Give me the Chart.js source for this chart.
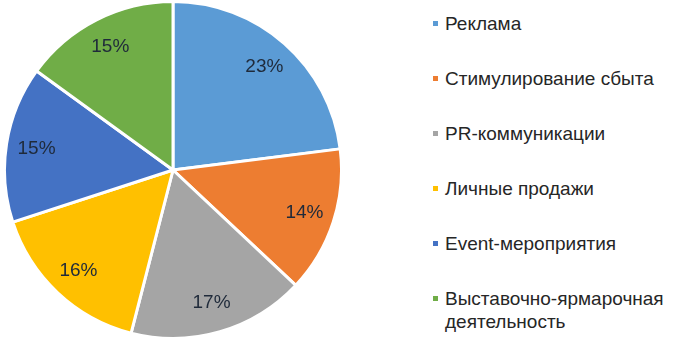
<!DOCTYPE html>
<html>
<head>
<meta charset="utf-8">
<script src="https://cdn.jsdelivr.net/npm/chart.js@4"></script>
<style>
  html, body { margin: 0; padding: 0; background: #fff; }
  body { width: 678px; height: 349px; position: relative; overflow: hidden; font-family: "Liberation Sans", Arial, sans-serif; }
  #pie-wrap { position: absolute; left: 3px; top: 0px; width: 340px; height: 340px; }
  #legend { position: absolute; left: 433px; top: 12px; margin: 0; padding: 0; list-style: none; }
  #legend li { position: relative; padding-left: 12px; font-size: 19px; line-height: 23px; color: #262626; height: 55px; width: 240px; }
  #legend li span { position: absolute; left: 0; top: 9px; width: 5px; height: 5px; }
</style>
</head>
<body>
<div id="pie-wrap"><canvas id="pie"></canvas></div>
<ul id="legend"></ul>
<script>
const categories = [
  'Реклама',
  'Стимулирование сбыта',
  'PR-коммуникации',
  'Личные продажи',
  'Event-мероприятия',
  'Выставочно-ярмарочная деятельность'
];
const shares = [23, 14, 17, 16, 15, 15];
const colors = ['#5B9BD5', '#ED7D31', '#A5A5A5', '#FFC000', '#4472C4', '#70AD47'];

// percent labels placed inside each slice
const sliceLabels = {
  id: 'sliceLabels',
  afterDatasetsDraw(chart) {
    const ctx = chart.ctx;
    const meta = chart.getDatasetMeta(0);
    ctx.save();
    ctx.font = '19px "Liberation Sans", Arial, sans-serif';
    ctx.fillStyle = '#1f2a3a';
    ctx.textAlign = 'center';
    ctx.textBaseline = 'middle';
    meta.data.forEach((arc, i) => {
      const mid = (arc.startAngle + arc.endAngle) / 2;
      const r = arc.outerRadius * 0.82;
      ctx.fillText(shares[i] + '%', arc.x + Math.cos(mid) * r, arc.y + Math.sin(mid) * r);
    });
    ctx.restore();
  }
};

new Chart(document.getElementById('pie'), {
  type: 'pie',
  data: {
    labels: categories,
    datasets: [{
      data: shares,
      backgroundColor: colors,
      borderColor: '#ffffff',
      borderWidth: 3
    }]
  },
  options: {
    responsive: true,
    maintainAspectRatio: false,
    animation: false,
    layout: { padding: 0 },
    plugins: {
      legend: { display: false },
      tooltip: { enabled: false }
    }
  },
  plugins: [sliceLabels]
});

const legend = document.getElementById('legend');
categories.forEach((name, i) => {
  const li = document.createElement('li');
  const box = document.createElement('span');
  box.style.background = colors[i];
  li.appendChild(box);
  li.appendChild(document.createTextNode(name));
  legend.appendChild(li);
});
</script>
</body>
</html>
